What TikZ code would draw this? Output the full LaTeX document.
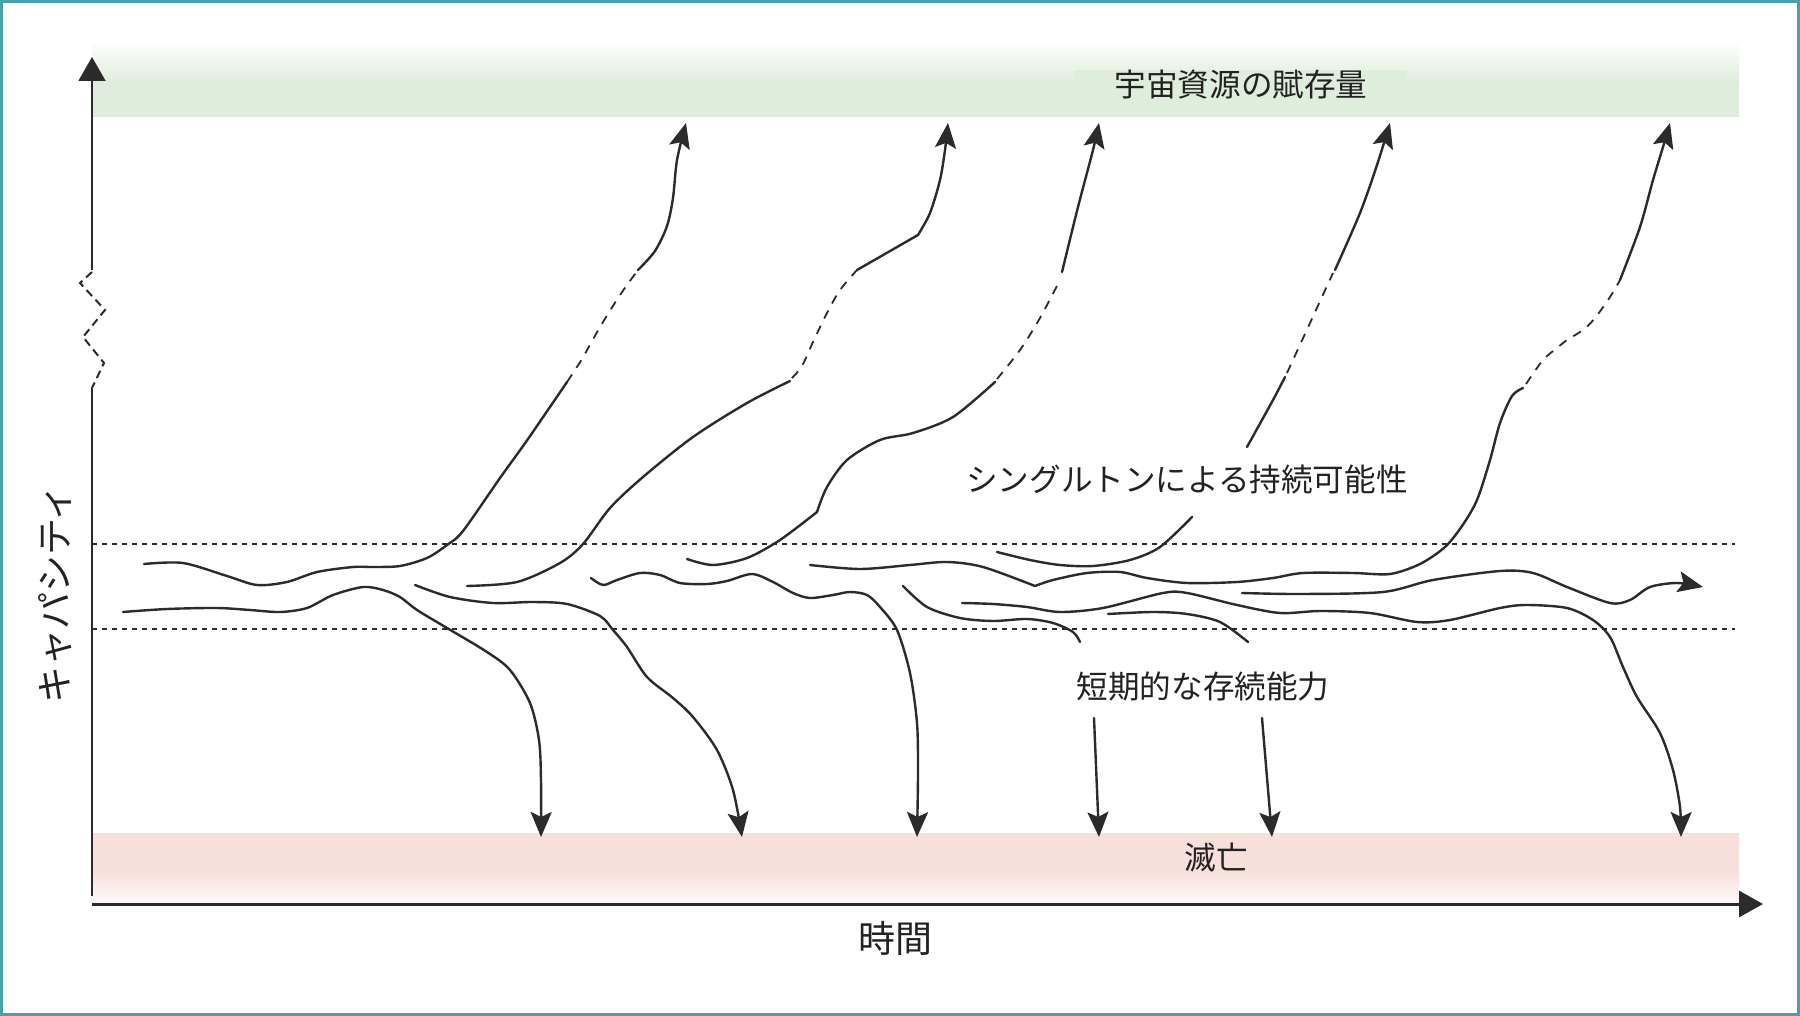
\documentclass[tikz,border=0pt]{standalone}
\usepackage{fontspec}
\newfontfamily\jp{Noto Sans CJK JP}
\usetikzlibrary{arrows.meta}
\definecolor{frameteal}{HTML}{4AA0AE}
\definecolor{bandgreen}{HTML}{DFEDDC}
\definecolor{bandred}{HTML}{F7DFDC}
\definecolor{ink}{HTML}{2B2B2B}
\definecolor{txt}{HTML}{222222}
\begin{document}
\begin{tikzpicture}[x=0.5pt, y=-0.5pt,
  trail/.style={draw=ink, line width=1.2pt, line cap=round, line join=round},
  dtrail/.style={draw=ink, line width=0.9pt, dash pattern=on 4.5pt off 4pt},
  tip/.style={-{Stealth[length=12.5pt, width=10.5pt, inset=2.5pt]}},
  lbl/.style={text=txt, font=\jp\fontsize{15.8pt}{19pt}\selectfont, inner sep=0pt},
  axlbl/.style={text=txt, font=\jp\fontsize{18.5pt}{22pt}\selectfont, inner sep=0pt},
  guide/.style={draw=ink, line width=0.9pt, dash pattern=on 2.5pt off 2.5pt}]
\useasboundingbox (0,0) rectangle (1800,1016);
\fill[white] (0,0) rectangle (1800,1016);
\draw[frameteal, line width=1.5pt] (1.5,1.5) rectangle (1798.5,1014.5);

% bands
\shade[top color=white, bottom color=bandgreen] (92,40) rectangle (1739,82);
\fill[bandgreen] (92,81.5) rectangle (1739,117);
\fill[bandred] (92,833) rectangle (1739,872);
\shade[top color=bandred, bottom color=bandred!15] (92,871.5) rectangle (1739,903);

% guides
\draw[guide] (92,544) -- (1735,544);
\draw[guide] (92,629) -- (1735,629);

% axes
\draw[ink, line width=1pt, -{Triangle[length=12pt, width=13.5pt]}] (92,270) -- (92,57);
\draw[ink, line width=1pt, dash pattern=on 4pt off 2.5pt] (92,272) -- (80,283) -- (105,310) -- (83,337) -- (104,363) -- (92,388);
\draw[ink, line width=1pt] (92,388) -- (92,896);
\draw[ink, line width=1.5pt, -{Triangle[length=12pt, width=13pt]}] (92,904) -- (1763,904);

% A
\draw[trail] plot[smooth] coordinates {(144,564) (183,563) (227,576) (257,585) (287,582) (317,572) (353,567) (373,567) (400,566) (427,558) (447,545) (463,531) (500,478) (528,439) (567,382)};
\draw[dtrail] plot[smooth] coordinates {(567,382) (582,359) (600,327) (620,295) (638,270)};
\draw[trail, tip] plot[smooth] coordinates {(638,270) (655,251) (667,226) (673,198) (677,160) (686,123)};
% B
\draw[trail] plot[smooth] coordinates {(467,586) (517,582) (560,563) (583,544) (610,508) (643,477) (693,437) (747,403) (790,381)};
\draw[dtrail] plot[smooth] coordinates {(792,378) (802,366) (813,342) (827,313) (840,290) (857,270)};
\draw[trail] (857,270) -- (918,235);
\draw[trail, tip] plot[smooth] coordinates {(918,235) (930,213) (940,180) (945,150) (948,123)};
% C
\draw[trail] plot[smooth] coordinates {(687,559) (713,565) (747,558) (780,540) (817,512)};
\draw[trail] plot[smooth] coordinates {(817,512) (827,487) (847,460) (880,440) (913,433) (953,417) (995,382)};
\draw[dtrail] plot[smooth] coordinates {(997,379) (1020,350) (1040,318) (1060,280)};
\draw[trail, tip] plot[smooth] coordinates {(1062,272) (1078,207) (1093,150) (1099,123)};
% D
\draw[trail] plot[smooth] coordinates {(997,552) (1030,560) (1060,565) (1093,566) (1130,560) (1160,547) (1192,517)};
\draw[trail] plot[smooth] coordinates {(1247,447) (1273,400) (1285,377)};
\draw[dtrail] (1287,373) -- (1333,273);
\draw[trail, tip] plot[smooth] coordinates {(1335,270) (1360,213) (1377,165) (1390,123)};
% E
\draw[trail] plot[smooth] coordinates {(810,565) (860,569) (910,565) (947,562) (983,567) (1035,586)};
\draw[trail] plot[smooth] coordinates {(1035,586) (1053,580) (1087,573) (1120,572) (1147,578) (1187,583) (1237,582) (1273,578) (1303,573) (1353,573) (1390,574) (1420,564) (1445,547) (1462,526) (1477,500) (1490,460) (1500,423) (1512,396) (1523,388)};
\draw[dtrail] plot[smooth] coordinates {(1526,384) (1543,360) (1557,348) (1567,340) (1583,330) (1595,318) (1610,297) (1620,280)};
\draw[trail, tip] plot[smooth] coordinates {(1620,280) (1640,227) (1653,180) (1663,147) (1670,123)};
% F
\draw[trail, tip] plot[smooth] coordinates {(123,612) (167,609) (217,608) (250,610) (280,612) (307,608) (333,595) (363,587) (383,590) (400,597) (417,610) (447,628) (487,652) (510,670) (530,703) (539,740) (541,780) (541,837)};
% G
\draw[trail, tip] plot[smooth] coordinates {(415,585) (450,597) (493,603) (533,602) (567,604) (600,616) (613,630) (627,647) (647,677) (673,698) (693,717) (717,750) (733,790) (742,837)};
% H
\draw[trail, tip] plot[smooth] coordinates {(591,578) (603,585) (617,580) (640,573) (660,575) (680,583) (707,584) (727,581) (752,574) (773,582) (793,593) (810,598) (833,595) (850,592) (867,595) (880,607) (897,630) (910,673) (917,723) (918,773) (917,837)};
% J
\draw[trail] plot[smooth] coordinates {(903,586) (927,607) (960,618) (993,621) (1027,619) (1053,623) (1073,632) (1080,642)};
\draw[trail, tip] (1094,718) -- (1099,837);
% K
\draw[trail, tip] plot[smooth] coordinates {(962,603) (993,604) (1027,607) (1060,612) (1103,608) (1163,593) (1187,593) (1237,605) (1280,613) (1320,611) (1370,613) (1417,622) (1450,620) (1500,608) (1527,605) (1567,608) (1593,620) (1610,637) (1623,667) (1637,697) (1660,733) (1673,770) (1680,807) (1681,837)};
% L
\draw[trail, tip] plot[smooth] coordinates {(1242,593) (1300,594) (1383,592) (1433,580) (1500,571) (1533,573) (1567,587) (1610,603) (1630,600) (1650,587) (1677,583) (1703,587)};
% M
\draw[trail] plot[smooth] coordinates {(1108,614) (1153,612) (1187,614) (1220,622) (1248,642)};
\draw[trail, tip] (1262,718) -- (1272,837);

% labels
\node[lbl, fill=bandgreen, inner xsep=20pt, inner ysep=0pt] (res) at (1241,85) {宇宙資源の賦存量};
\node[lbl] (single) at (1187,479) {シングルトンによる持続可能性};
\node[lbl] (short) at (1203,686) {短期的な存続能力};
\node[lbl] (doom) at (1216,858) {滅亡};
\node[axlbl, rotate=90] (cap) at (55,594) {キャパシティ};
\node[axlbl] (time) at (895,938) {時間};
\end{tikzpicture}
\end{document}
